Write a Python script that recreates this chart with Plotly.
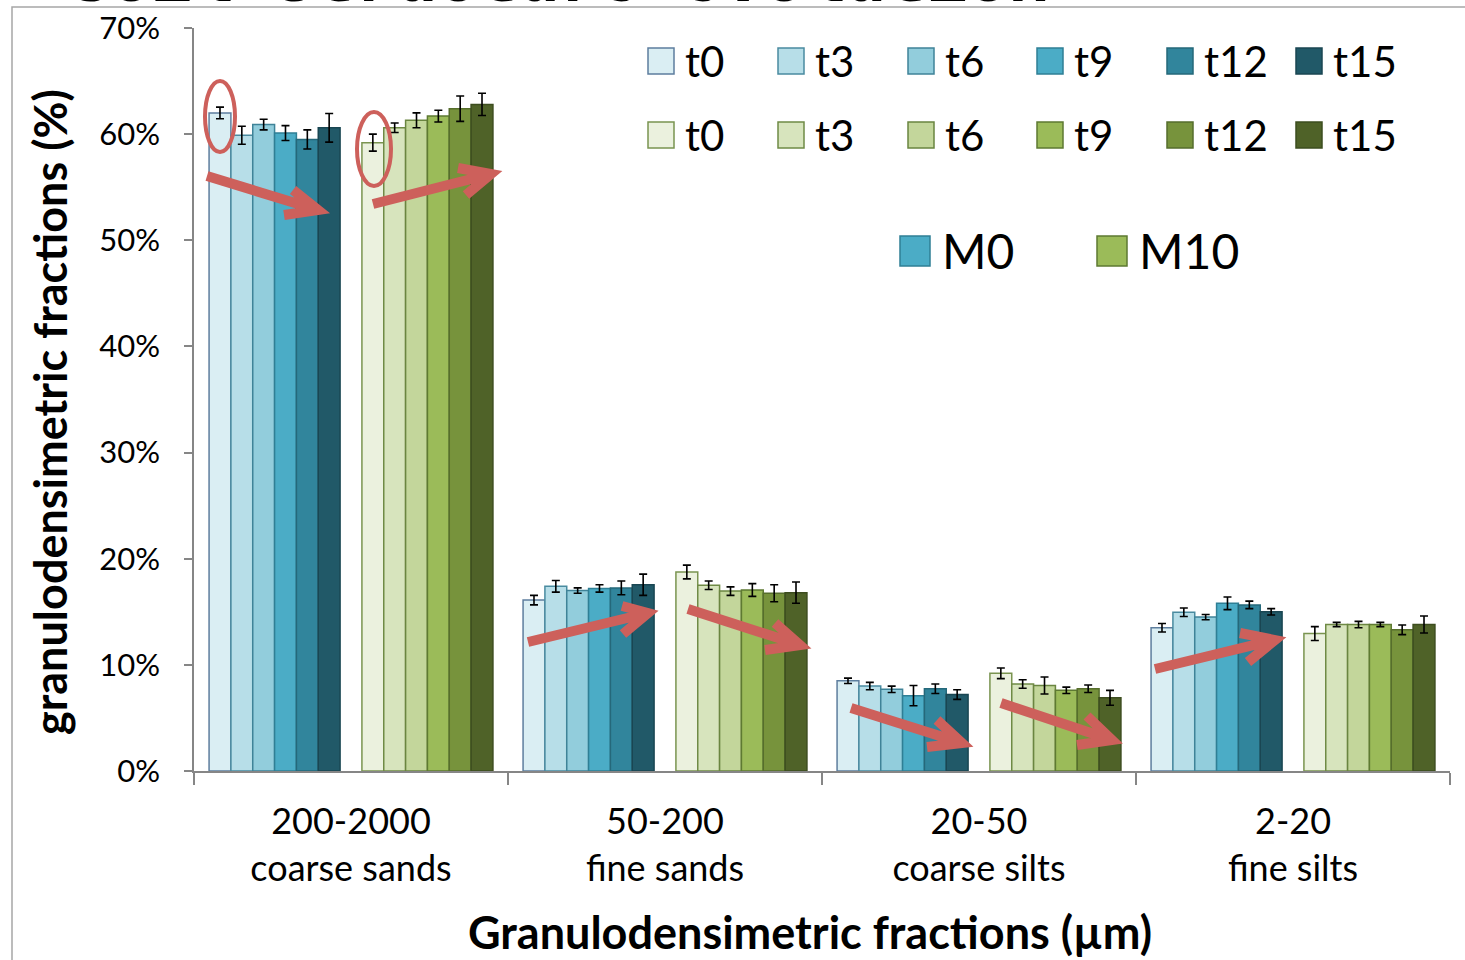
import plotly.graph_objects as go

categories = ["200-2000<br>coarse sands", "50-200<br>fine sands",
              "20-50<br>coarse silts", "2-20<br>fine silts"]
times = ["t0", "t3", "t6", "t9", "t12", "t15"]
tick_values = [0, 10, 20, 30, 40, 50, 60, 70]
tick_labels = ["0%", "10%", "20%", "30%", "40%", "50%", "60%", "70%"]

# M0 values (%) per sampling time, one value per size fraction
m0_t0 = [62.0, 16.1, 8.5, 13.5]
m0_t3 = [59.9, 17.4, 8.0, 14.95]
m0_t6 = [60.9, 17.0, 7.7, 14.5]
m0_t9 = [60.1, 17.2, 7.1, 15.8]
m0_t12 = [59.5, 17.25, 7.75, 15.65]
m0_t15 = [60.6, 17.55, 7.2, 15.0]
# M0 error (+/-)
m0_t0_err = [0.55, 0.45, 0.25, 0.4]
m0_t3_err = [0.85, 0.55, 0.35, 0.4]
m0_t6_err = [0.5, 0.25, 0.3, 0.25]
m0_t9_err = [0.7, 0.35, 0.95, 0.6]
m0_t12_err = [0.9, 0.65, 0.45, 0.35]
m0_t15_err = [1.35, 1.0, 0.45, 0.3]

# M10 values (%)
m10_t0 = [59.2, 18.75, 9.2, 12.95]
m10_t3 = [60.6, 17.5, 8.2, 13.8]
m10_t6 = [61.3, 16.95, 8.05, 13.8]
m10_t9 = [61.7, 17.05, 7.6, 13.8]
m10_t12 = [62.4, 16.75, 7.75, 13.3]
m10_t15 = [62.8, 16.8, 6.9, 13.8]
# M10 error (+/-)
m10_t0_err = [0.8, 0.65, 0.5, 0.65]
m10_t3_err = [0.45, 0.4, 0.4, 0.2]
m10_t6_err = [0.7, 0.4, 0.8, 0.3]
m10_t9_err = [0.55, 0.6, 0.3, 0.2]
m10_t12_err = [1.2, 0.8, 0.35, 0.45]
m10_t15_err = [1.05, 1.0, 0.7, 0.8]

m0_series = [m0_t0, m0_t3, m0_t6, m0_t9, m0_t12, m0_t15]
m0_errors = [m0_t0_err, m0_t3_err, m0_t6_err, m0_t9_err, m0_t12_err, m0_t15_err]
m10_series = [m10_t0, m10_t3, m10_t6, m10_t9, m10_t12, m10_t15]
m10_errors = [m10_t0_err, m10_t3_err, m10_t6_err, m10_t9_err, m10_t12_err, m10_t15_err]

m0_colors = ["#DAEEF3", "#B7DEE8", "#92CDDC", "#4BACC6", "#31859C", "#215968"]
m0_lines = ["#5E7E9E", "#4A8BA0", "#3F8398", "#2F7F95", "#25687A", "#1A4652"]
m10_colors = ["#EBF1DE", "#D7E4BD", "#C3D69B", "#9BBB59", "#77933C", "#4F6228"]
m10_lines = ["#7A9450", "#6F8A45", "#6A8540", "#5E7A32", "#566E2C", "#3D4D1F"]

FONT = "Lato"
RED = "#CD605B"

W, H = 1465, 960
ML, MR, MT, MB = 194, 15, 28, 189
PW, PH = W - ML - MR, H - MT - MB


def px(x):
    return (x - ML) / PW


def py(y):
    return (MT + PH - y) / PH


fig = go.Figure()

for i, t in enumerate(times):
    fig.add_trace(go.Bar(
        x=categories, y=m0_series[i], name="M0 " + t,
        marker=dict(color=m0_colors[i], line=dict(color=m0_lines[i], width=1.5)),
        error_y=dict(type="data", array=m0_errors[i], color="black",
                     thickness=1.6, width=4),
        showlegend=False))

# empty slot between the two treatments
fig.add_trace(go.Bar(x=categories, y=[None] * 4, showlegend=False,
                     hoverinfo="skip"))

for i, t in enumerate(times):
    fig.add_trace(go.Bar(
        x=categories, y=m10_series[i], name="M10 " + t,
        marker=dict(color=m10_colors[i], line=dict(color=m10_lines[i], width=1.5)),
        error_y=dict(type="data", array=m10_errors[i], color="black",
                     thickness=1.6, width=4),
        showlegend=False))

shapes = []
annotations = []

# frame
shapes.append(dict(type="rect", xref="paper", yref="paper",
                   x0=px(12), x1=px(1490), y0=py(7), y1=py(990),
                   line=dict(color="#A6A6A6", width=1.5), fillcolor="rgba(0,0,0,0)",
                   layer="below"))

# manual legend
leg_x = [648, 778, 908, 1037, 1167, 1296]
rows = [(61, m0_colors, m0_lines), (135, m10_colors, m10_lines)]
for yc, cols, lns in rows:
    for i, t in enumerate(times):
        x0 = leg_x[i]
        shapes.append(dict(type="rect", xref="paper", yref="paper",
                           x0=px(x0), x1=px(x0 + 26), y0=py(yc + 13), y1=py(yc - 13),
                           fillcolor=cols[i], line=dict(color=lns[i], width=1.5)))
        annotations.append(dict(text=t, x=px(x0 + 35), y=py(yc), xref="paper",
                                yref="paper", xanchor="left", yanchor="middle",
                                showarrow=False,
                                font=dict(family=FONT, size=42, color="black")))

for x0, label, col, ln in [(900, "M0", m0_colors[3], m0_lines[3]),
                            (1097, "M10", m10_colors[3], m10_lines[3])]:
    shapes.append(dict(type="rect", xref="paper", yref="paper",
                       x0=px(x0), x1=px(x0 + 30), y0=py(266), y1=py(236),
                       fillcolor=col, line=dict(color=ln, width=1.5)))
    annotations.append(dict(text=label, x=px(x0 + 40), y=py(250), xref="paper",
                            yref="paper", xanchor="left", yanchor="middle",
                            showarrow=False,
                            font=dict(family=FONT, size=48, color="black")))

# red arrows: tail, tip, arm1, arm2 (pixel positions of the overlay drawing)
arrows = [
    ((207, 176), (318, 210), (293, 190), (284, 215)),
    ((373, 204), (491, 174), (458, 168), (466, 195)),
    ((528, 642), (648, 613), (622, 606), (623, 634)),
    ((688, 609), (800, 645), (775, 623), (765, 650)),
    ((851, 708), (962, 743), (937, 720), (927, 747)),
    ((1001, 703), (1112, 740), (1087, 716), (1077, 745)),
    ((1155, 669), (1275, 640), (1240, 633), (1248, 662)),
]
for tail, tip, a1, a2 in arrows:
    path = "M {} {} L {} {} M {} {} L {} {} L {} {}".format(
        px(tail[0]), py(tail[1]), px(tip[0]), py(tip[1]),
        px(a1[0]), py(a1[1]), px(tip[0]), py(tip[1]), px(a2[0]), py(a2[1]))
    shapes.append(dict(type="path", xref="paper", yref="paper", path=path,
                       line=dict(color=RED, width=10)))

# red ellipses
for x0, x1, y0, y1 in [(205, 235, 81, 152), (357, 391, 112, 186)]:
    shapes.append(dict(type="circle", xref="paper", yref="paper",
                       x0=px(x0), x1=px(x1), y0=py(y1), y1=py(y0),
                       line=dict(color=RED, width=4)))

# cut-off heading
annotations.append(dict(text="<b>Soil structure evolution</b>", x=px(68), y=py(23),
                        xref="paper", yref="paper", xanchor="left", yanchor="bottom",
                        showarrow=False,
                        font=dict(family="Liberation Mono", size=68, color="black")))

# axis titles
annotations.append(dict(text="<b>Granulodensimetric fractions (µm)</b>",
                        x=px(810), y=py(932), xref="paper", yref="paper",
                        xanchor="center", yanchor="middle", showarrow=False,
                        font=dict(family=FONT, size=45, color="black")))
annotations.append(dict(text="<b>granulodensimetric fractions (%)</b>",
                        x=px(50), y=py(412), xref="paper", yref="paper",
                        xanchor="center", yanchor="middle", showarrow=False,
                        textangle=-90,
                        font=dict(family=FONT, size=45, color="black")))

fig.update_layout(
    width=W, height=H,
    margin=dict(l=ML, r=MR, t=MT, b=MB, autoexpand=False),
    paper_bgcolor="white", plot_bgcolor="white",
    barmode="group", bargap=0.096, bargroupgap=0,
    shapes=shapes, annotations=annotations,
    showlegend=False,
)
fig.update_xaxes(
    type="category", showline=True, linecolor="#868686", linewidth=1.5,
    ticks="outside", tickson="boundaries", ticklen=12, tickcolor="#868686",
    tickwidth=1.5, showgrid=False, automargin=False,
    tickfont=dict(family=FONT, size=36, color="black"),
    ticklabelstandoff=18,
)
fig.update_yaxes(
    range=[0, 70], tickvals=tick_values, ticktext=tick_labels,
    showline=True, linecolor="#868686", linewidth=1.5,
    ticks="outside", ticklen=8, tickcolor="#868686", tickwidth=1.5,
    showgrid=False, zeroline=False, automargin=False,
    tickfont=dict(family=FONT, size=31, color="black"),
    ticklabelstandoff=18,
)

fig.write_html("out.html",
               config={"displayModeBar": False},
               post_script="document.body.style.margin='0';"
                           "document.body.style.overflow='hidden';")
